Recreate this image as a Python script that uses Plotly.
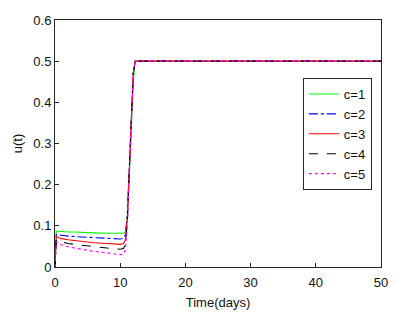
import plotly.graph_objects as go

t = [0, 0.2, 0.6, 1, 2, 3, 4, 6, 8, 10, 10.5, 10.8, 11.1, 11.4, 11.7, 12.0, 12.3, 50]
c1 = [0, 0.087, 0.087, 0.086, 0.085, 0.085, 0.084, 0.083, 0.082, 0.081, 0.082, 0.086, 0.12, 0.22, 0.34, 0.45, 0.5, 0.5]
c2 = [0, 0.079, 0.078, 0.077, 0.075, 0.074, 0.073, 0.071, 0.069, 0.068, 0.070, 0.078, 0.13, 0.25, 0.37, 0.47, 0.5, 0.5]
c3 = [0, 0.074, 0.071, 0.069, 0.066, 0.064, 0.062, 0.059, 0.057, 0.055, 0.057, 0.066, 0.12, 0.24, 0.37, 0.47, 0.5, 0.5]
c4 = [0, 0.067, 0.063, 0.061, 0.057, 0.055, 0.053, 0.049, 0.046, 0.043, 0.045, 0.055, 0.11, 0.24, 0.37, 0.47, 0.5, 0.5]
c5 = [0, 0.061, 0.056, 0.054, 0.049, 0.046, 0.043, 0.038, 0.034, 0.030, 0.031, 0.042, 0.10, 0.23, 0.37, 0.47, 0.5, 0.5]

names = ["c=1", "c=2", "c=3", "c=4", "c=5"]
series = [c1, c2, c3, c4, c5]
colors = ["#00ff00", "#0000ff", "#ff0000", "#000000", "#ff00ff"]
dashes = ["solid", "dashdot", "solid", "dash", "dot"]

fig = go.Figure()
for n, s, col, d in zip(names, series, colors, dashes):
    fig.add_trace(go.Scatter(x=t, y=s, mode="lines", name=n,
                             line=dict(color=col, dash=d, width=1.1)))

axis_common = dict(showline=True, linecolor="#262626", linewidth=1, mirror=True,
                   ticks="inside", ticklen=4, tickcolor="#262626", showgrid=False,
                   zeroline=False, automargin=False, tickfont=dict(size=13, color="#111"))
fig.update_xaxes(range=[0, 50], tickvals=[0, 10, 20, 30, 40, 50], ticklabelstandoff=3,
                 title=dict(text="Time(days)", font=dict(size=13, color="#111"), standoff=9),
                 **axis_common)
fig.update_yaxes(range=[0, 0.6], tickvals=[0, 0.1, 0.2, 0.3, 0.4, 0.5, 0.6],
                 ticktext=["0", "0.1", "0.2", "0.3", "0.4", "0.5", "0.6"],
                 title=dict(text="u(t)", font=dict(size=13, color="#111"), standoff=7),
                 **axis_common)
fig.update_layout(
    width=405, height=318,
    margin=dict(l=47, r=32, t=12, b=59),
    plot_bgcolor="white", paper_bgcolor="white",
    font=dict(family="Liberation Sans, Arial, sans-serif", color="#111"),
    showlegend=True,
    legend=dict(x=0.972, y=0.765, xanchor="right", yanchor="top",
                bgcolor="white", bordercolor="#262626", borderwidth=1,
                font=dict(size=13), tracegroupgap=0, itemwidth=30,
                traceorder="normal"),
)
fig.write_html("out.html")
